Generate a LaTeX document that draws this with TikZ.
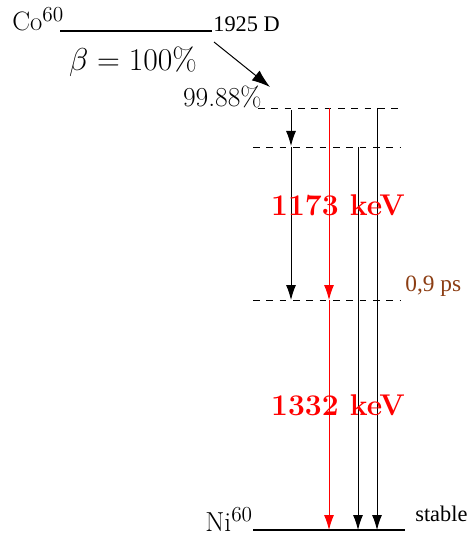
\RequirePackage{fix-cm}
\documentclass[tikz,border=0pt]{standalone}
\usepackage{fontspec}
\newfontfamily\tms{Liberation Serif}
\usetikzlibrary{arrows.meta}
\definecolor{brn}{RGB}{140,62,20}
\newcommand{\isosup}[1]{$^{\mbox{\fontsize{12.8}{15}\selectfont #1}}$}
\begin{document}
\begin{tikzpicture}[x=0.6pt,y=-0.6pt,
  level/.style={line width=1.3pt},
  dlevel/.style={line width=0.5pt,dash pattern=on 4pt off 4pt},
  trans/.style={line width=0.55pt,-{Latex[length=9pt,width=6pt]}},
  lbl/.style={inner sep=0pt}]
\useasboundingbox (0,0) rectangle (468,536);
% Co level
\coordinate (coL) at (60,31); \coordinate (coR) at (212,31);
\draw[level] (coL) -- (coR);
\node[lbl,anchor=base west,font=\fontsize{16}{19}\selectfont] (co) at (12,31) {Co\isosup{60}};
\node[lbl,anchor=south west,font=\tms\fontsize{13.4}{16}\selectfont] (hl) at (213,32) {1925 D};
\node[lbl,font=\fontsize{19}{23}\selectfont] (beta) at (133,62) {$\beta = 100\%$};
% excited levels
\coordinate (l1L) at (258,108); \coordinate (l1R) at (400,108);
\coordinate (l2L) at (253,147); \coordinate (l2R) at (400,147);
\coordinate (l3L) at (253,300); \coordinate (l3R) at (400,300);
\draw[dlevel] (l1L) -- (l1R);
\draw[dlevel] (l2L) -- (l2R);
\draw[dlevel] (l3L) -- (l3R);
\node[lbl,anchor=base east,font=\fontsize{16.5}{20}\selectfont] (pc) at (262,107) {99.88\%};
\coordinate (bs) at (214,42); \coordinate (be) at (270,87);
\draw[line width=0.6pt,-{Latex[length=11pt,width=7.5pt]}] (bs) -- (be);
% ground
\coordinate (gL) at (253,530); \coordinate (gR) at (405,530);
\draw[level] (gL) -- (gR);
\node[lbl,anchor=base west,font=\fontsize{16.5}{20}\selectfont] (ni) at (205,531) {Ni\isosup{60}};
\node[lbl,anchor=south west,font=\tms\fontsize{13.4}{16}\selectfont] (st) at (415,522) {stable};
% transitions
\draw[trans] (291,110) -- (291,146);
\draw[trans] (291,147) -- (291,300);
\draw[trans,red] (329,108) -- (329,300);
\draw[trans,red] (329,300) -- (329,530);
\draw[trans] (358,147) -- (358,530);
\draw[trans] (377,108) -- (377,530);
\node[lbl,red,font=\fontsize{18}{22}\selectfont\bfseries] (e1) at (338,205) {1173 keV};
\node[lbl,red,font=\fontsize{18}{22}\selectfont\bfseries] (e2) at (338,405) {1332 keV};
\node[lbl,brn,anchor=base west,font=\tms\fontsize{14}{17}\selectfont] (tau) at (405,291) {0,9 ps};
\end{tikzpicture}
\end{document}
